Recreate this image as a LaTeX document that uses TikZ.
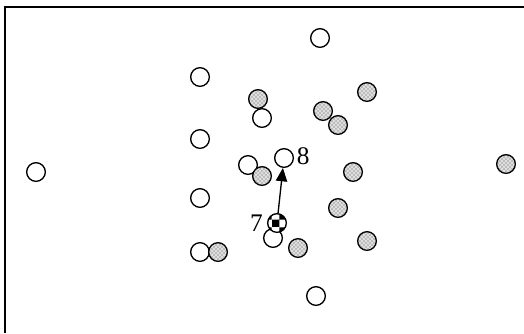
\documentclass[tikz,border=0pt]{standalone}
\usepackage{fontspec}
\setmainfont{Liberation Serif}
\usepackage{tikz}
\usetikzlibrary{arrows.meta,positioning,patterns}
\tikzset{
  free/.style ={circle,draw,line width=1pt,fill=white,minimum size=14pt,inner sep=0pt},
  busy/.style ={circle,draw,line width=1pt,fill=gray!25,minimum size=14pt,inner sep=0pt,
                postaction={pattern=crosshatch dots,pattern color=gray!60!black}},
  mover/.style={circle,draw,line width=1pt,fill=white,minimum size=14pt,inner sep=0pt,
                postaction={pattern=checkerboard,pattern color=black}},
  lbl/.style  ={font=\fontsize{19}{22}\selectfont,inner sep=2pt},
  ar/.style   ={-{Triangle[length=10pt,width=8.5pt]},line width=1pt},
}
\begin{document}
\begin{tikzpicture}[x=0.75pt,y=-0.75pt]
  \useasboundingbox (0,0) rectangle (524,333);
  \draw[line width=1.3pt] (5,333) -- (5,7) -- (524,7);
  % empty places
  \node[free] (o1) at (36,172){};
  \node[free] (o2) at (320,38){};
  \node[free] (o3) at (316,296){};
  \node[free] (o4) at (200,77){};
  \node[free] (o5) at (200,139){};
  \node[free] (o6) at (248,165){};
  \node[free] (o7) at (200,198){};
  \node[free] (o8) at (273,238){};
  \node[free] (o9) at (200,252){};
  \node[free] (n8) at (284,158){};
  % occupied places
  \node[busy] (s1) at (506,164){};
  \node[busy] (s2) at (258,99){};
  \node[free] (o10) at (262,118){};
  \node[busy] (s3) at (323,111){};
  \node[busy] (s4) at (338,125){};
  \node[busy] (s5) at (367,92){};
  \node[busy] (s6) at (262,176){};
  \node[busy] (s7) at (353,172){};
  \node[busy] (s8) at (338,208){};
  \node[busy] (s9) at (298,248){};
  \node[busy] (s10) at (367,241){};
  \node[busy] (s11) at (218,252){};
  % moving one
  \node[mover] (n7) at (277,223){};
  \node[lbl,left=1pt of n7] (t7){7};
  \node[lbl,right=0pt of n8,yshift=1.5pt] (t8){8};
  \draw[ar] (n7) -- (n8);
\end{tikzpicture}
\end{document}
